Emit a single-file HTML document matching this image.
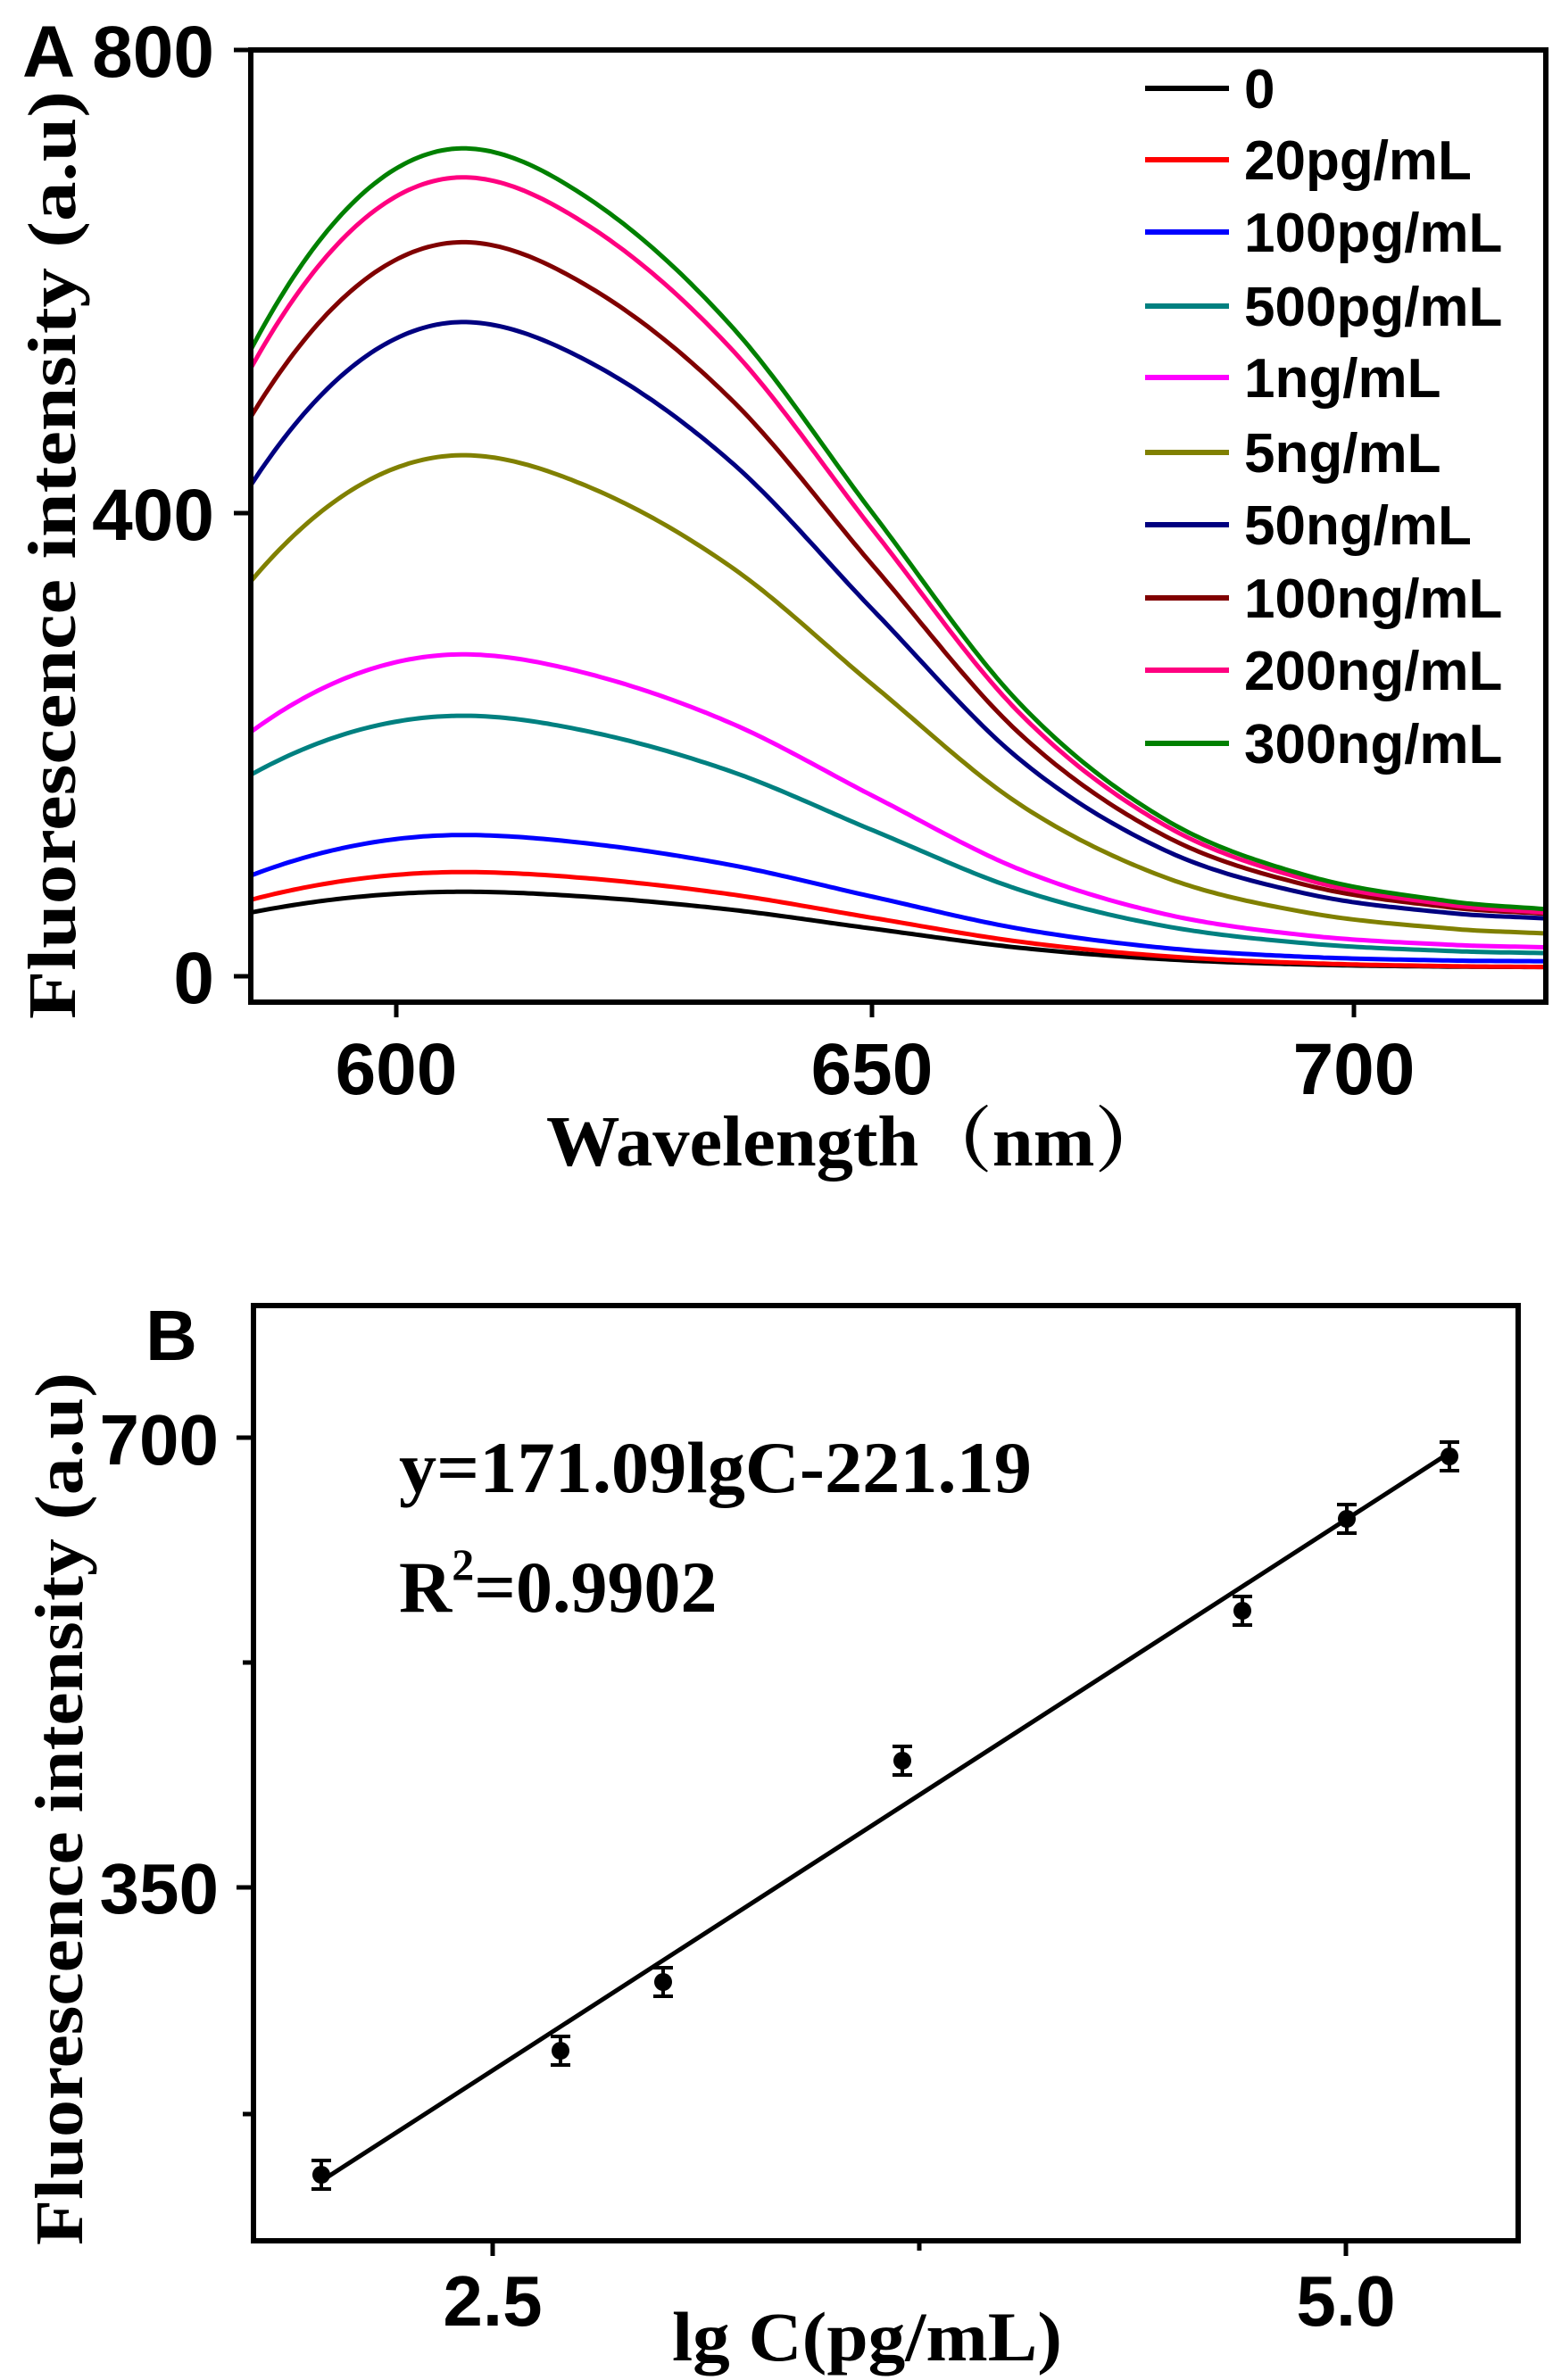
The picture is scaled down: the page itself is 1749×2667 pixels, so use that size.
<!DOCTYPE html>
<html><head><meta charset="utf-8"><style>
html,body{margin:0;padding:0;background:#fff;}
svg{display:block;}
</style></head><body>
<svg id="s" width="1749" height="2667" viewBox="0 0 1749 2667" xmlns="http://www.w3.org/2000/svg">
<rect width="1749" height="2667" fill="#fff"/>
<!-- Panel A -->
<g id="curves"></g>
<rect x="281" y="56" width="1451" height="1067" fill="none" stroke="#000" stroke-width="6"/>
<g stroke="#000" stroke-width="5">
<line x1="262" y1="56" x2="281" y2="56"/><line x1="262" y1="575" x2="281" y2="575"/><line x1="262" y1="1094" x2="281" y2="1094"/>
<line x1="444" y1="1123" x2="444" y2="1140"/><line x1="977" y1="1123" x2="977" y2="1140"/><line x1="1517" y1="1123" x2="1517" y2="1140"/>
</g>
<g font-family="Liberation Sans, sans-serif" font-weight="bold" font-size="82" fill="#000">
<text x="25" y="86">A</text>
<text x="240" y="86" text-anchor="end">800</text>
<text x="240" y="605" text-anchor="end">400</text>
<text x="240" y="1124" text-anchor="end">0</text>
<text x="444" y="1226" text-anchor="middle">600</text>
<text x="977" y="1226" text-anchor="middle">650</text>
<text x="1517" y="1226" text-anchor="middle">700</text>
</g>
<text x="612" y="1306" font-family="Liberation Serif, 'Noto Serif CJK SC', serif" font-weight="bold" font-size="80" textLength="697" lengthAdjust="spacingAndGlyphs">Wavelength（nm）</text>
<text transform="translate(84,622) rotate(-90)" text-anchor="middle" font-family="Liberation Serif, serif" font-weight="bold" font-size="76" textLength="1040" lengthAdjust="spacingAndGlyphs">Fluorescence intensity (a.u)</text>
<g id="legend" font-family="Liberation Sans, sans-serif" font-weight="bold" font-size="62"></g>

<!-- Panel B -->
<rect x="284" y="1463" width="1417" height="1048" fill="none" stroke="#000" stroke-width="6"/>
<g stroke="#000" stroke-width="5">
<line x1="265" y1="1611" x2="284" y2="1611"/><line x1="272" y1="1863" x2="284" y2="1863"/>
<line x1="265" y1="2115" x2="284" y2="2115"/><line x1="272" y1="2369" x2="284" y2="2369"/>
<line x1="552" y1="2511" x2="552" y2="2528"/><line x1="1030" y1="2511" x2="1030" y2="2522"/><line x1="1508" y1="2511" x2="1508" y2="2528"/>
</g>
<g font-family="Liberation Sans, sans-serif" font-weight="bold" font-size="80" fill="#000">
<text x="192" y="1524" text-anchor="middle">B</text>
<text x="245" y="1641" text-anchor="end">700</text>
<text x="245" y="2144" text-anchor="end">350</text>
<text x="552" y="2606" text-anchor="middle">2.5</text>
<text x="1508" y="2606" text-anchor="middle">5.0</text>
</g>
<text x="753" y="2645" font-family="Liberation Serif, serif" font-weight="bold" font-size="78" textLength="437" lengthAdjust="spacingAndGlyphs">lg C(pg/mL)</text>
<text transform="translate(92,2027) rotate(-90)" text-anchor="middle" font-family="Liberation Serif, serif" font-weight="bold" font-size="76" textLength="978" lengthAdjust="spacingAndGlyphs">Fluorescence intensity (a.u)</text>
<text x="447" y="1672" font-family="Liberation Serif, serif" font-weight="bold" font-size="82" textLength="709" lengthAdjust="spacingAndGlyphs">y=171.09lgC-221.19</text>
<text x="447" y="1806" font-family="Liberation Serif, serif" font-weight="bold" font-size="82">R<tspan dy="-36" font-size="50">2</tspan><tspan dy="36">=0.9902</tspan></text>
<line x1="360" y1="2444" x2="1624" y2="1628" stroke="#000" stroke-width="5"/>
<g id="pts"></g>
</svg>
<script>
var NS="http://www.w3.org/2000/svg";
function X(w){return 444+(w-600)*10.73;}
function Y(v){return 1094-v*(1038/800);}
var cs=[
["0","#000000",73,55,8],
["20pg/mL","#ff0000",90,66,8],
["100pg/mL","#0000ff",122,87,13],
["500pg/mL","#008080",225,174,20],
["1ng/mL","#ff00ff",278,211,25],
["5ng/mL","#808000",450,341,37],
["50ng/mL","#000080",565,424,50],
["100ng/mL","#800000",634,483,54],
["200ng/mL","#ff0080",690,525,55],
["300ng/mL","#008000",715,541,58]];
var sx=[607,620,635,650,665,680,695,710,720];
var sy=[1,0.94,0.785,0.555,0.33,0.19,0.12,0.088,0.078];
var m=[];
for(var i=0;i<sx.length;i++){
 if(i==0)m.push(0);
 else if(i==sx.length-1)m.push((sy[i]-sy[i-1])/(sx[i]-sx[i-1]));
 else m.push((sy[i+1]-sy[i-1])/(sx[i+1]-sx[i-1]));
}
function shape(x){
 for(var i=0;i<sx.length-1;i++){
  if(x<=sx[i+1]){
   var h=sx[i+1]-sx[i],t=(x-sx[i])/h,t2=t*t,t3=t2*t;
   return (2*t3-3*t2+1)*sy[i]+(t3-2*t2+t)*h*m[i]+(-2*t3+3*t2)*sy[i+1]+(t3-t2)*h*m[i+1];
  }
 }
 return sy[sy.length-1];
}
var g=document.getElementById("curves");
cs.forEach(function(c){
 var P=c[2],L=c[3],T=c[4],r=L/P,tr=T/P,d="";
 for(var x=584.8;x<=720.1;x+=0.5){
  var v;
  if(x<607){var u=(607-x)/22.2;v=P*(1-(1-r)*u*u);}
  else{var u=(x-607)/113;v=P*(shape(x)+(tr-0.078)*u*u);}
  d+=(d?"L":"M")+X(x).toFixed(1)+","+Y(v).toFixed(1);
 }
 var p=document.createElementNS(NS,"path");p.setAttribute("d",d);p.setAttribute("fill","none");
 p.setAttribute("stroke",c[1]);p.setAttribute("stroke-width","5");g.appendChild(p);
});
var ly=[99,179,260,343,423,507,588,670,751,833],lg=document.getElementById("legend");
cs.forEach(function(c,i){
 var l=document.createElementNS(NS,"line");l.setAttribute("x1",1283);l.setAttribute("x2",1377);
 l.setAttribute("y1",ly[i]);l.setAttribute("y2",ly[i]);l.setAttribute("stroke",c[1]);l.setAttribute("stroke-width","6");lg.appendChild(l);
 var t=document.createElementNS(NS,"text");t.setAttribute("x",1394);t.setAttribute("y",ly[i]+22);t.textContent=c[0];lg.appendChild(t);
});
var pts=[[360,2437],[628,2298],[743,2221],[1011,1973],[1392,1805],[1509,1702],[1624,1632]],pg=document.getElementById("pts"),h="";
pts.forEach(function(p){
 h+='<line x1="'+p[0]+'" y1="'+(p[1]-16)+'" x2="'+p[0]+'" y2="'+(p[1]+16)+'" stroke="#000" stroke-width="4"/>';
 h+='<line x1="'+(p[0]-11)+'" y1="'+(p[1]-16)+'" x2="'+(p[0]+11)+'" y2="'+(p[1]-16)+'" stroke="#000" stroke-width="4"/>';
 h+='<line x1="'+(p[0]-11)+'" y1="'+(p[1]+16)+'" x2="'+(p[0]+11)+'" y2="'+(p[1]+16)+'" stroke="#000" stroke-width="4"/>';
 h+='<circle cx="'+p[0]+'" cy="'+p[1]+'" r="10" fill="#000"/>';
});
pg.innerHTML=h;
</script>
</body></html>
